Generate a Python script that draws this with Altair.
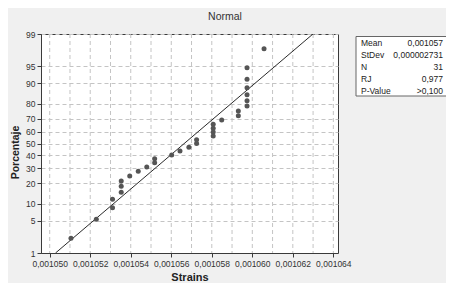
import altair as alt
import pandas as pd
from statistics import NormalDist

# ---- data ----
strains = [0.00105105, 0.00105230, 0.00105310, 0.00105310, 0.00105353, 0.00105353,
           0.00105353, 0.00105395, 0.00105437, 0.00105479, 0.00105518, 0.00105518,
           0.00105602, 0.00105643, 0.00105687, 0.00105725, 0.00105725, 0.00105807,
           0.00105807, 0.00105807, 0.00105807, 0.00105849, 0.00105931, 0.00105931,
           0.00105974, 0.00105974, 0.00105974, 0.00105974, 0.00105974, 0.00105974,
           0.00106058]
percent = [2.2, 5.4, 8.6, 11.8, 15.0, 18.2, 21.3, 24.5, 27.7, 30.9, 34.1, 37.3, 40.4,
           43.6, 46.8, 50.0, 53.2, 56.4, 59.6, 62.7, 65.9, 69.1, 72.3, 75.5, 78.7, 81.8,
           85.0, 88.2, 91.4, 94.6, 97.8]

stat_names = ["Mean", "StDev", "N", "RJ", "P-Value"]
stat_values = ["0,001057", "0,000002731", "31", "0,977", ">0,100"]

y_tick_pct = [1, 5, 10, 20, 30, 40, 50, 60, 70, 80, 90, 95, 99]
x_label_ticks = [0.001050, 0.001052, 0.001054, 0.001056, 0.001058, 0.001060, 0.001062, 0.001064]
x_grid = [0.001050, 0.001051, 0.001052, 0.001053, 0.001054, 0.001055, 0.001056, 0.001057,
          0.001058, 0.001059, 0.001060, 0.001061, 0.001062, 0.001063, 0.001064]
line_pct = [1, 99]
fit_sd = 0.000002731

nd = NormalDist()
fit_mean = sum(strains) / len(strains)

pts = pd.DataFrame({"strain": strains, "pct": percent})
pts["z"] = [nd.inv_cdf(p / 100) for p in percent]
line_df = pd.DataFrame({"pct": line_pct})
line_df["z"] = [nd.inv_cdf(p / 100) for p in line_pct]
line_df["lx"] = fit_mean + fit_sd * line_df["z"]
grid_df = pd.DataFrame({"g": x_grid})
stats_df = pd.DataFrame({"name": stat_names, "val": stat_values, "row": list(range(len(stat_names)))})

zmin, zmax = nd.inv_cdf(0.01), nd.inv_cdf(0.99)
y_tick_z = [nd.inv_cdf(p / 100) for p in y_tick_pct]

FONT = "Liberation Sans"
DARK = "#3a3a3a"

xscale = alt.Scale(domain=[0.00104957, 0.00106423], nice=False, zero=False)
yscale = alt.Scale(domain=[zmin, zmax], nice=False, zero=False)

xaxis = alt.Axis(values=x_label_ticks, grid=False, title="Strains",
                 labelExpr="replace(format(datum.value, '.6f'), '.', ',')",
                 labelFont=FONT, labelFontSize=8.5, labelColor="#333",
                 tickSize=4, tickColor=DARK, domainColor=DARK, labelPadding=2,
                 labelFlush=False, labelOverlap=False,
                 titleFont=FONT, titleFontSize=11, titleFontWeight="bold",
                 titleColor="#222", titleY=24, titleBaseline="middle")
yaxis = alt.Axis(values=y_tick_z, grid=True, gridDash=[4, 3], gridColor="#c4c4c4",
                 title="Porcentaje",
                 labelExpr="format(cumulativeNormal(datum.value) * 100, '.0f')",
                 labelFont=FONT, labelFontSize=8.5, labelColor="#333",
                 tickSize=4, tickColor=DARK, domainColor=DARK, labelPadding=2,
                 labelFlush=False, labelOverlap=False,
                 titleFont=FONT, titleFontSize=10.5, titleFontWeight="bold",
                 titleColor="#222", titleX=-26, titleY=118, titleBaseline="middle")

grid = alt.Chart(grid_df).mark_rule(strokeDash=[4, 3], color="#c4c4c4", strokeWidth=1).encode(
    x=alt.X("g:Q", scale=xscale, axis=xaxis)
)
line = alt.Chart(line_df).mark_line(color="#2a2a2a", strokeWidth=1, clip=True).encode(
    x=alt.X("lx:Q", scale=xscale, axis=xaxis),
    y=alt.Y("z:Q", scale=yscale, axis=yaxis),
    order="z:Q",
)
points = alt.Chart(pts).mark_circle(color="#555555", opacity=1, size=25).encode(
    x=alt.X("strain:Q", scale=xscale, axis=xaxis),
    y=alt.Y("z:Q", scale=yscale, axis=yaxis),
)
main = alt.layer(grid, line, points)

box = alt.Chart(alt.Data(values=[{}])).mark_rect(fill="white", stroke="#666", strokeWidth=1).encode(
    x=alt.value(315), x2=alt.value(406), y=alt.value(2.5), y2=alt.value(62)
)
rowscale = alt.Scale(domain=[-0.5, 4.5], range=[3, 62.5], nice=False, zero=False)
names = alt.Chart(stats_df).mark_text(align="left", baseline="middle", font=FONT,
                                      fontSize=8.5, color="#222").encode(
    x=alt.value(320), y=alt.Y("row:Q", scale=rowscale, axis=None), text="name:N"
)
vals = alt.Chart(stats_df).mark_text(align="right", baseline="middle", font=FONT,
                                     fontSize=8.5, color="#222").encode(
    x=alt.value(402), y=alt.Y("row:Q", scale=rowscale, axis=None), text="val:N"
)
title = alt.Chart(alt.Data(values=[{"t": "Normal"}])).mark_text(
    align="center", baseline="middle", font=FONT, fontSize=10.5, color="#333"
).encode(x=alt.value(184), y=alt.value(-17), text="t:N")

side = alt.layer(box, names, vals, title)

chart = alt.layer(main, side).resolve_scale(y="independent").properties(
    width=297, height=219,
    autosize=alt.AutoSizeParams(type="none"),
    padding={"left": 33, "top": 26, "right": 108, "bottom": 30},
    background="#f0f0f0",
).configure_view(stroke=DARK, strokeWidth=1, fill="white")

chart.save("out.html", embed_options={"renderer": "svg", "actions": False})
